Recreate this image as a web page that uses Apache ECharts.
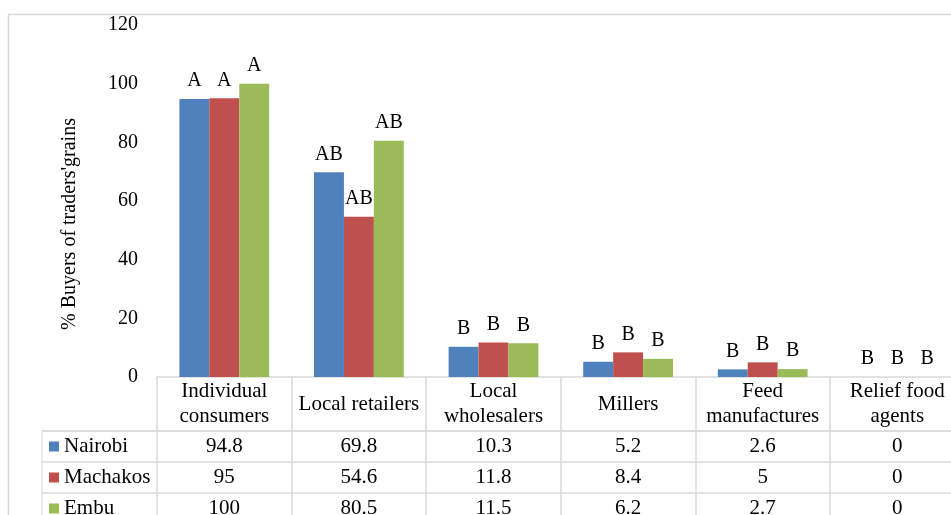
<!DOCTYPE html>
<html>
<head>
<meta charset="utf-8">
<script src="https://cdn.jsdelivr.net/npm/echarts@6/dist/echarts.min.js"></script>
<style>
  html, body { margin: 0; padding: 0; background: #fff; }
  #chart { width: 951px; height: 515px; }
</style>
</head>
<body>
<div id="chart"></div>
<script>
// Buyer categories (header row of the data table)
const categories = ['Individual\nconsumers', 'Local retailers', 'Local\nwholesalers', 'Millers', 'Feed\nmanufactures', 'Relief food\nagents'];

// Share of buyers per county (%)
const seriesNames = ['Nairobi', 'Machakos', 'Embu'];
const nairobi  = [94.8, 69.8, 10.3, 5.2, 2.6, 0];
const machakos = [95, 54.6, 11.8, 8.4, 5, 0];
const embu     = [100, 80.5, 11.5, 6.2, 2.7, 0];

// Mean separation letters shown above each bar
const nairobiLetters  = ['A', 'AB', 'B', 'B', 'B', 'B'];
const machakosLetters = ['A', 'AB', 'B', 'B', 'B', 'B'];
const embuLetters     = ['A', 'AB', 'B', 'B', 'B', 'B'];

// Value axis
const yMin = 0, yMax = 120, yStep = 20;
const yTitle = "% Buyers of traders'grains";

const colors = ['#4F81BD', '#C0504D', '#9BBB59'];
const serif = "'Liberation Serif', 'Times New Roman', serif";
const gridLine = '#d9d9d9';

const values = [nairobi, machakos, embu];
const letters = [nairobiLetters, machakosLetters, embuLetters];

const plotLeft = 157, plotTop = 25, plotBottom = 377;
const colWidth = 134.6;
const plotWidth = colWidth * categories.length;
const headerH = 54, rowH = 31;

// One hidden-line x axis per table row, carrying that row's numbers
const rowAxes = values.map((vals, r) => ({
  type: 'category',
  gridIndex: 0,
  position: 'bottom',
  data: categories,
  offset: headerH + rowH * r + rowH / 2,
  axisLine: { show: false },
  axisTick: { show: false },
  splitLine: { show: false },
  axisLabel: {
    interval: 0,
    margin: 0,
    verticalAlign: 'middle',
    fontFamily: serif,
    fontSize: 21,
    color: '#000',
    formatter: (v, i) => String(vals[i])
  }
}));

const legendRich = { n: { fontFamily: serif, fontSize: 21, color: '#000', padding: [0, 0, 0, 5] } };
colors.forEach((c, i) => {
  legendRich['s' + i] = { width: 10, height: 10, backgroundColor: c };
});

const option = {
  animation: false,
  backgroundColor: '#fff',
  color: colors,
  graphic: [{
    type: 'rect',
    silent: true,
    shape: { x: 8.5, y: 14.5, width: 1000, height: 600 },
    style: { fill: 'none', stroke: gridLine, lineWidth: 1.5 }
  }],
  grid: [
    {
      left: plotLeft, top: plotTop, width: plotWidth, height: plotBottom - plotTop,
      containLabel: false, outerBoundsMode: 'none'
    },
    {
      left: 42, top: plotBottom + headerH, width: plotLeft - 42 + plotWidth, height: rowH * 3,
      containLabel: false, outerBoundsMode: 'none',
      show: true, borderColor: gridLine, borderWidth: 1, backgroundColor: 'transparent'
    }
  ],
  xAxis: [
    {
      type: 'category',
      gridIndex: 0,
      position: 'bottom',
      data: categories,
      axisLine: { show: true, lineStyle: { color: gridLine, width: 1.5 } },
      axisTick: { show: true, interval: 0, length: 145, lineStyle: { color: gridLine, width: 1.5 } },
      splitLine: { show: false },
      axisLabel: {
        interval: 0,
        margin: headerH / 2,
        verticalAlign: 'middle',
        lineHeight: 25,
        fontFamily: serif,
        fontSize: 21,
        color: '#000'
      }
    },
    ...rowAxes,
    { type: 'value', gridIndex: 1, show: false }
  ],
  yAxis: [
    {
      type: 'value',
      gridIndex: 0,
      min: yMin,
      max: yMax,
      interval: yStep,
      name: yTitle,
      nameLocation: 'middle',
      nameGap: 77,
      nameMoveOverlap: false,
      nameTextStyle: { fontFamily: serif, fontSize: 20, color: '#000', padding: [0, 46, 0, 0] },
      axisLine: { show: false },
      axisTick: { show: false },
      splitLine: { show: false },
      axisLabel: { margin: 19, fontFamily: serif, fontSize: 20, color: '#000' }
    },
    {
      type: 'category',
      gridIndex: 1,
      inverse: true,
      data: seriesNames,
      axisLine: { show: false },
      axisTick: { show: false },
      splitLine: { show: true, interval: 0, lineStyle: { color: gridLine, width: 1.5 } },
      axisLabel: {
        inside: true,
        interval: 0,
        margin: 7,
        formatter: (v, i) => `{s${i}|}{n|${v}}`,
        rich: legendRich
      }
    }
  ],
  series: values.map((vals, s) => ({
    name: seriesNames[s],
    type: 'bar',
    xAxisIndex: 0,
    yAxisIndex: 0,
    data: vals,
    barGap: '0%',
    barCategoryGap: '33.3%',
    label: {
      show: true,
      position: 'top',
      distance: 8,
      fontFamily: serif,
      fontSize: 20,
      color: '#000',
      formatter: p => letters[s][p.dataIndex]
    }
  }))
};

const chart = echarts.init(document.getElementById('chart'), null, { renderer: 'canvas' });
chart.setOption(option);
</script>
</body>
</html>
